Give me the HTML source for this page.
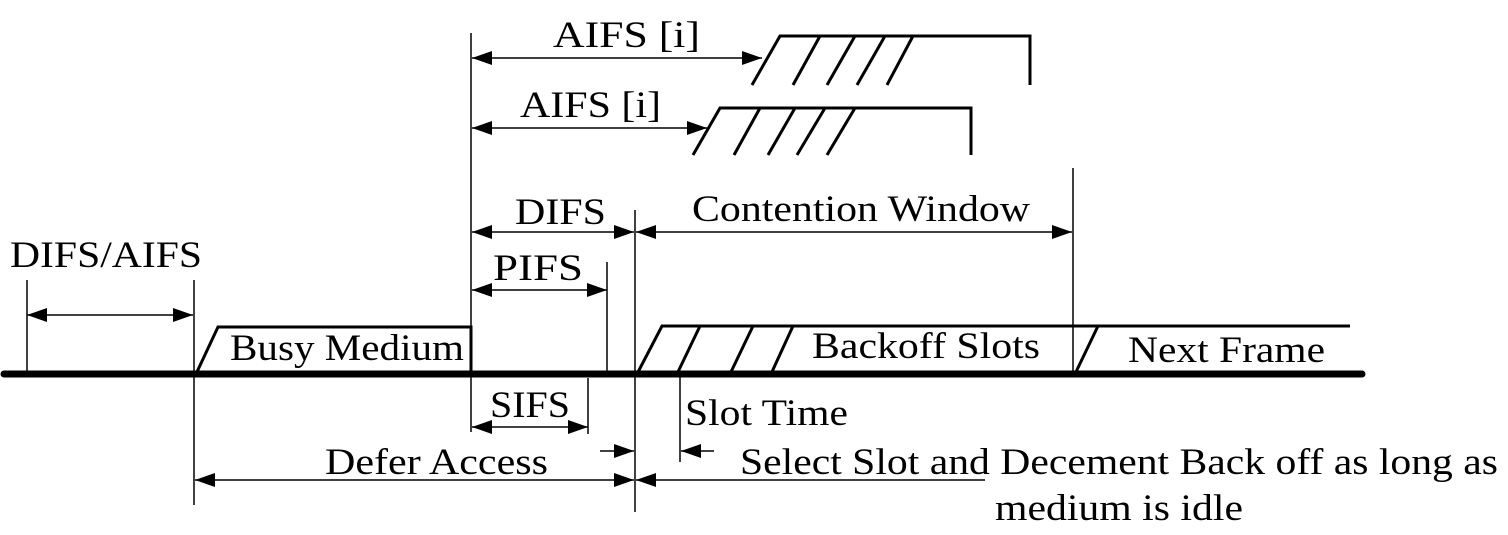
<!DOCTYPE html>
<html><head><meta charset="utf-8"><style>
html,body{margin:0;padding:0;background:#fff}
svg{display:block}
text{font-family:"Liberation Serif",serif;font-size:37px;fill:#000}
</style></head><body>
<svg width="1508" height="535" viewBox="0 0 1508 535" xmlns="http://www.w3.org/2000/svg">
<defs>
<marker id="a" viewBox="0 0 20 14" refX="20" refY="7" markerWidth="20" markerHeight="14" markerUnits="userSpaceOnUse" orient="auto-start-reverse"><path d="M0,0 L20,7 L0,14 Z" fill="#000"/></marker>
</defs>
<!-- thin verticals -->
<g stroke="#000" stroke-width="1.5" fill="none">
<line x1="27" y1="280" x2="27" y2="374"/>
<line x1="194" y1="280" x2="194" y2="505"/>
<line x1="471" y1="33" x2="471" y2="432"/>
<line x1="607" y1="262" x2="607" y2="374"/>
<line x1="635" y1="210" x2="635" y2="512"/>
<line x1="588" y1="378" x2="588" y2="434"/>
<line x1="680" y1="374" x2="680" y2="462"/>
<line x1="1073" y1="168" x2="1073" y2="374"/>
</g>
<!-- arrows -->
<g stroke="#000" stroke-width="1.5" fill="none" marker-start="url(#a)" marker-end="url(#a)">
<line x1="27" y1="315" x2="193" y2="315"/>
<line x1="472" y1="58" x2="762" y2="58"/>
<line x1="472" y1="128" x2="707" y2="128"/>
<line x1="472" y1="232" x2="634" y2="232"/>
<line x1="636" y1="232" x2="1072" y2="232"/>
<line x1="472" y1="290" x2="607" y2="290"/>
<line x1="472" y1="427" x2="588" y2="427"/>
<line x1="195" y1="480" x2="634" y2="480"/>
</g>
<g stroke="#000" stroke-width="1.5" fill="none">
<line x1="600" y1="451" x2="634" y2="451" marker-end="url(#a)"/>
<line x1="714" y1="451" x2="681" y2="451" marker-end="url(#a)"/>
<line x1="985" y1="480" x2="636" y2="480" marker-end="url(#a)"/>
</g>
<!-- thick shapes -->
<g stroke="#000" stroke-width="3" fill="none">
<polyline points="196,374 218,327 471,327 471,374"/>
<polyline points="637,374 662,326 1350,326"/>
<line x1="677" y1="374" x2="700" y2="326"/>
<line x1="730" y1="374" x2="753" y2="326"/>
<line x1="771" y1="374" x2="793" y2="326"/>
<line x1="1075" y1="374" x2="1098" y2="326"/>
<polyline points="752,85 780,36 1030,36 1030,85"/>
<line x1="793" y1="85" x2="820" y2="36"/>
<line x1="827" y1="85" x2="855" y2="36"/>
<line x1="857" y1="85" x2="885" y2="36"/>
<line x1="887" y1="85" x2="913" y2="36"/>
<polyline points="693,155 720,108 971,108 971,155"/>
<line x1="734" y1="155" x2="760" y2="108"/>
<line x1="768" y1="155" x2="795" y2="108"/>
<line x1="797" y1="155" x2="825" y2="108"/>
<line x1="827" y1="155" x2="855" y2="108"/>
</g>
<line x1="4" y1="374" x2="1362" y2="374" stroke="#000" stroke-width="7" stroke-linecap="round"/>
<!-- text -->
<text x="553" y="47" textLength="147" lengthAdjust="spacingAndGlyphs">AIFS [i]</text>
<text x="520" y="117" textLength="141" lengthAdjust="spacingAndGlyphs">AIFS [i]</text>
<text x="515" y="224" textLength="91" lengthAdjust="spacingAndGlyphs">DIFS</text>
<text x="692" y="221" textLength="338" lengthAdjust="spacingAndGlyphs">Contention Window</text>
<text x="10" y="267" textLength="192" lengthAdjust="spacingAndGlyphs">DIFS/AIFS</text>
<text x="493" y="280" textLength="90" lengthAdjust="spacingAndGlyphs">PIFS</text>
<text x="230" y="360" textLength="234" lengthAdjust="spacingAndGlyphs">Busy Medium</text>
<text x="812" y="358" textLength="228" lengthAdjust="spacingAndGlyphs">Backoff Slots</text>
<text x="1128" y="362" textLength="197" lengthAdjust="spacingAndGlyphs">Next Frame</text>
<text x="490" y="417" textLength="80" lengthAdjust="spacingAndGlyphs">SIFS</text>
<text x="685" y="425" textLength="163" lengthAdjust="spacingAndGlyphs">Slot Time</text>
<text x="325" y="474" textLength="223" lengthAdjust="spacingAndGlyphs">Defer Access</text>
<text x="740" y="474" textLength="758" lengthAdjust="spacingAndGlyphs">Select Slot and Decement Back off as long as</text>
<text x="995" y="520" textLength="248" lengthAdjust="spacingAndGlyphs">medium is idle</text>
</svg>
</body></html>
